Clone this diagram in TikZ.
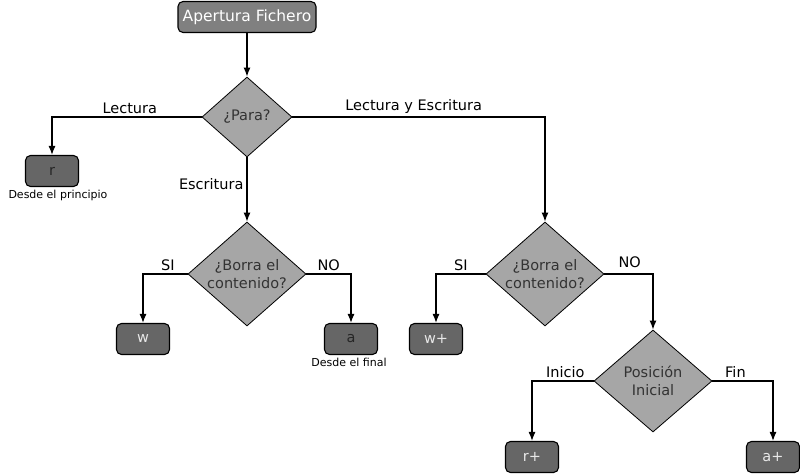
\documentclass[tikz,border=0pt]{standalone}
\usepackage{fontspec}
\setmainfont{DejaVu Sans}
\usetikzlibrary{shapes.geometric, arrows.meta, positioning}
\definecolor{boxgray}{HTML}{666666}
\definecolor{topgray}{HTML}{808080}
\definecolor{decgray}{HTML}{A6A6A6}
\definecolor{lightfont}{HTML}{E8E8E8}
\tikzstyle{startbox} = [
    rectangle,
    rounded corners=5pt,
    minimum width=138pt,
    minimum height=31pt,
    draw=black,
    line width=1.1pt,
    fill=topgray,
    text=white,
    font=\fontsize{15.5}{18}\selectfont
]
\tikzstyle{modebox} = [
    rectangle,
    rounded corners=5pt,
    minimum width=53pt,
    minimum height=31pt,
    draw=black,
    line width=1.1pt,
    fill=boxgray,
    text=lightfont,
    font=\fontsize{14.5}{17}\selectfont
]
\tikzstyle{decision} = [
    diamond,
    inner sep=-14pt,
    draw=black,
    line width=0.8pt,
    fill=decgray,
    text=black!80,
    align=center,
    font=\fontsize{14.5}{18.5}\selectfont
]
\tikzstyle{lbl} = [font=\fontsize{14.5}{17}\selectfont, inner sep=3pt]
\tikzstyle{note} = [font=\fontsize{11}{13}\selectfont, inner sep=2pt]
\tikzstyle{arrow} = [line width=1.2pt,->,>={Latex[length=9pt,width=7pt]}]

\begin{document}
\begin{tikzpicture}[x=1pt,y=1pt]
\useasboundingbox (0,0) rectangle (800,475);

\node (start) [startbox] at (247,458) {Apertura Fichero};

\node (para) [decision, minimum width=90pt, minimum height=80pt] at (247,358)
{¿Para?};

\node (r) [modebox, text=black!85] at (52,304) {r};
\node (rnote) [note, below=1pt of r, xshift=6pt] {Desde el principio};

\node (borra1) [decision, minimum width=118pt, minimum height=104pt] at (247,201)
{¿Borra el\\contenido?};
\node (w) [modebox] at (143,136) {w};
\node (a) [modebox, text=black!85] at (351,136) {a};
\node (anote) [note, below=1pt of a, xshift=-2pt] {Desde el final};

\node (borra2) [decision, minimum width=118pt, minimum height=104pt] at (545,201)
{¿Borra el\\contenido?};
\node (wp) [modebox] at (436,136) {w+};

\node (pos) [decision, minimum width=118pt, minimum height=102pt] at (653,94)
{Posición\\Inicial};
\node (rp) [modebox] at (532,18) {r+};
\node (ap) [modebox] at (773,18) {a+};

\draw [arrow] (start) -- (para);
\draw [arrow] (para.west) -| node (lLect) [lbl, above, pos=0.24] {Lectura} (r.north);
\draw [arrow] (para.east) -| node (lLectEsc) [lbl, above, pos=0.24] {Lectura y Escritura} (borra2.north);
\draw [arrow] (para.south) -- node (lEsc) [lbl, left, pos=0.42] {Escritura} (borra1.north);

\draw [arrow] (borra1.west) -| node (lSi1) [lbl, above, pos=0.22] {SI} (w.north);
\draw [arrow] (borra1.east) -| node (lNo1) [lbl, above, pos=0.25] {NO} (a.north);

\draw [arrow] (borra2.west) -| node (lSi2) [lbl, above, pos=0.25] {SI} (wp.north);
\draw [arrow] (borra2.east) -| node (lNo2) [lbl, above=3pt, pos=0.26] {NO} (pos.north);

\draw [arrow] (pos.west) -| node (lIni) [lbl, above, pos=0.23] {Inicio} (rp.north);
\draw [arrow] (pos.east) -| node (lFin) [lbl, above, pos=0.19] {Fin} (ap.north);

\end{tikzpicture}
\end{document}
